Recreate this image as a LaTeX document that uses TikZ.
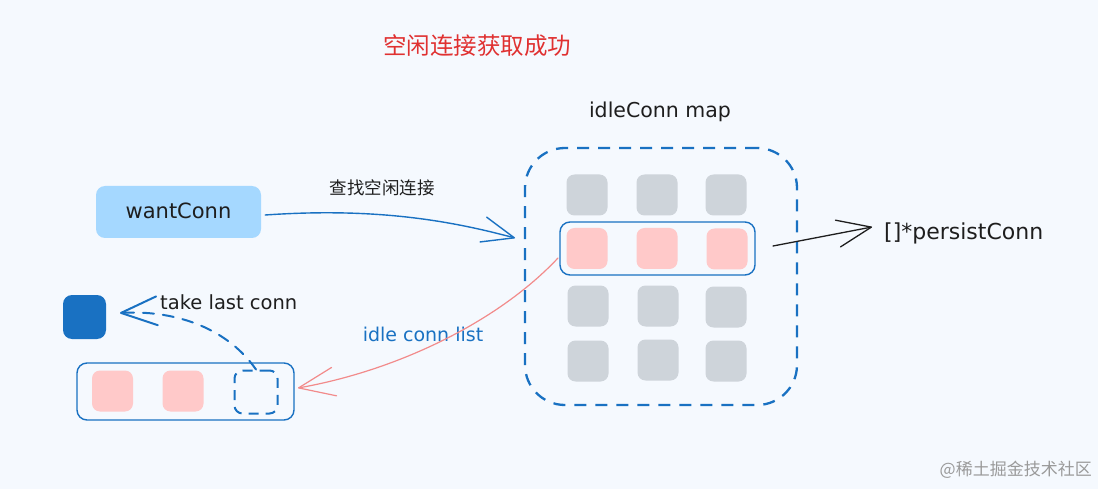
\documentclass[tikz,border=0pt]{standalone}
\usepackage{fontspec}
\setmainfont{DejaVu Sans}
\newfontfamily\hand{DejaVu Sans}
\newfontfamily\cjk{Noto Sans CJK SC}
\usetikzlibrary{arrows.meta,calc}
\definecolor{bg}{RGB}{245,249,254}
\definecolor{xblue}{HTML}{1971C2}
\definecolor{xlight}{HTML}{A5D8FF}
\definecolor{xgray}{HTML}{CED4DA}
\definecolor{xpink}{HTML}{FFC9C9}
\definecolor{xred}{HTML}{E03131}
\definecolor{xline}{HTML}{F28B8B}
\definecolor{xtext}{HTML}{1E1E1E}
\definecolor{xmark}{HTML}{9A9A9A}
\begin{document}
\begin{tikzpicture}[x=1pt,y=-1pt,
  sq/.style={rectangle,rounded corners=8pt,minimum width=41pt,minimum height=41pt,inner sep=0pt},
  graysq/.style={sq,fill=xgray},
  pinksq/.style={sq,fill=xpink},
  frame/.style={rectangle,rounded corners=10pt,draw=xblue,line width=1.4pt,inner sep=0pt},
  handtxt/.style={font=\hand\fontsize{#1}{#1}\selectfont,text=xtext,inner sep=0pt},
  barb/.style={-{Straight Barb[length=#1,width=0.8*#1,round]},line cap=round,line join=round},
]
\fill[bg] (0,0) rectangle (1098,489);
\useasboundingbox (0,0) rectangle (1098,489);

% title
\node[font=\cjk\fontsize{23.5}{27}\selectfont,text=xred,inner sep=0pt] (title) at (477,46) {空闲连接获取成功};

% wantConn
\node[rectangle,rounded corners=9pt,fill=xlight,minimum width=165pt,minimum height=52pt,inner sep=0pt] (want) at (178.5,212) {};
\node[handtxt=21] (wantlbl) at (178.5,211) {wantConn};

% map frame
\node[rectangle,rounded corners=40pt,draw=xblue,line width=2.3pt,dash pattern=on 12pt off 9pt,minimum width=272pt,minimum height=257pt,inner sep=0pt] (map) at (661,276.5) {};
\node[handtxt=20.5] (maplbl) at (660,112) {idleConn map};

% grid
\node[graysq] (g11) at (587,195) {};
\node[graysq] (g12) at (657,195) {};
\node[graysq] (g13) at (726,195) {};
\node[pinksq] (p21) at (587,248.5) {};
\node[pinksq] (p22) at (657,248.5) {};
\node[pinksq] (p23) at (727,249) {};
\node[graysq] (g31) at (588,306) {};
\node[graysq] (g32) at (658,306) {};
\node[graysq] (g33) at (726,307) {};
\node[graysq] (g41) at (588,361) {};
\node[graysq] (g42) at (658,360) {};
\node[graysq] (g43) at (726,361) {};
\node[frame,minimum width=195pt,minimum height=53pt] (selrow) at (657.5,248.5) {};

% persistConn
\node[handtxt=22,anchor=west] (pc) at (884,233) {[]*persistConn};
\coordinate (pcstart) at (773,246);
\coordinate (pctip) at (872,227);
\draw[barb=34pt,xtext,line width=1.3pt] (pcstart) -- (pctip);

% wantConn -> map
\node[font=\cjk\fontsize{17.5}{20}\selectfont,text=xtext,inner sep=0pt] (findlbl) at (382,188) {查找空闲连接};
\coordinate (mapin) at (515,238);
\draw[barb=32pt,xblue,line width=1.4pt] ([xshift=4pt,yshift=-3pt]want.east) .. controls (380,207) and (455,222) .. (mapin);

% list
\node[frame,minimum width=217pt,minimum height=57pt] (list) at (185.5,391.5) {};
\node[pinksq] (l1) at (112.5,391) {};
\node[pinksq] (l2) at (183,391) {};
\node[sq,draw=xblue,line width=2pt,dash pattern=on 10pt off 7pt,minimum width=43pt,minimum height=43pt] (slot) at (256,392) {};

% selrow -> list (red)
\node[handtxt=19,text=xblue] (idlelbl) at (423,334) {idle conn list};
\coordinate (rowout) at (558,258);
\coordinate (listin) at (298,388);
\draw[barb=36pt,xline,line width=1.2pt] (rowout) .. controls (500,320) and (400,370) .. (listin);

% taken conn
\node[sq,fill=xblue,minimum width=43pt,minimum height=44pt,rounded corners=9pt] (taken) at (84.5,317) {};
\node[handtxt=19.5,anchor=west] (takelbl) at (160,302) {take last conn};
\coordinate (takentip) at (120,313);
\draw[barb=36pt,xblue,line width=2pt,dash pattern=on 11pt off 9pt] (slot.north) .. controls (225,325) and (170,310) .. (takentip);

% watermark
\node[font=\cjk\fontsize{17}{20}\selectfont,text=xmark,anchor=east,inner sep=0pt] (wm) at (1092,470) {@稀土掘金技术社区};
\end{tikzpicture}
\end{document}
